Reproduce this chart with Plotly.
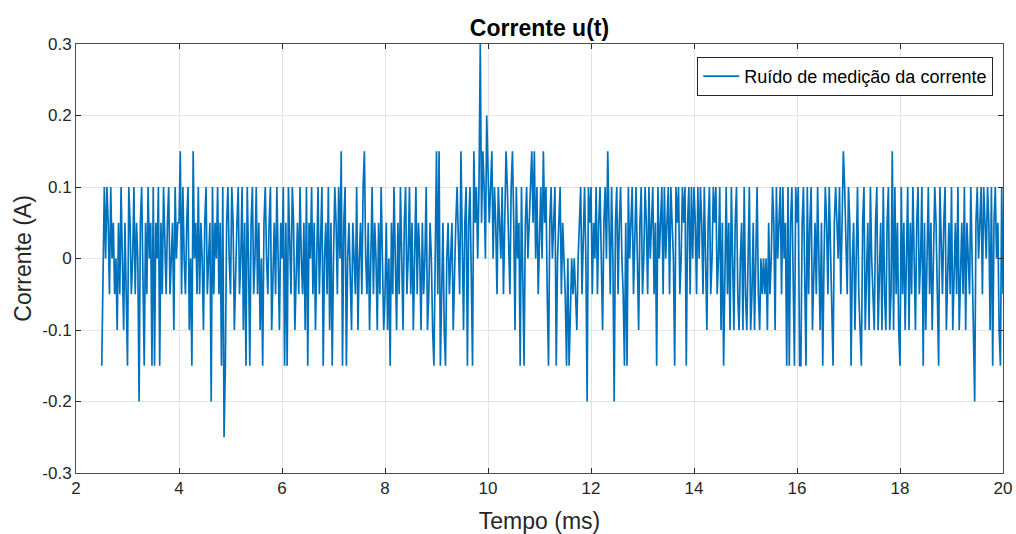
import numpy as np
import plotly.graph_objects as go

# Quantisation step of the current measurement (A per count)
LSB = 0.05
T_START = 2.5      # ms
T_STEP = 0.025     # ms between samples

# Measured noise, in counts of LSB, split into blocks of samples
seg_a = [-3, -1, 2, 0, 2, 1, -1, 2, 0, 1,
         -1, 0, -2, 1, -1, 2, 0, -2, 1, -1,
         -3, 2, 1, -1, 0, 2, -1, 1, 0, -4,
         1, 2, 0, -3, 1, -1, 2, 0, 1, -3,
         2, -3, 1, 0, 2, -3, 1, -1, 2, 0,
         -1, 1, 2, -1, 0, 1, -2, 2, 0, 1]
seg_b = [1, 3, -1, 2, 0, -1, 1, 2, -2, 0,
         -3, 3, 0, 1, -1, 2, -1, 1, 0, -2,
         1, 2, -1, 0, 1, -4, 2, -1, 1, 0,
         2, -1, 1, -3, 2, -5, -3, 1, 2, 0,
         -1, 2, 1, -2, 0, 1, 2, -1, 0, 2,
         -2, 1, -3, 2, 0, -3, 1, 2, -1, 0,
         2, -1, 1, -2, 0, -3, 1, 2, 0, -1,
         1, 2, -2, 0, 1, -1, 2, 0, -2, 1]
seg_c = [0, 2, -3, 1, -3, 2, 0, -1, 2, 1,
         -2, 0, 1, -1, 2, 0, -1, 1, -2, 2,
         -3, 1, 0, 2, -1, 1, -2, 0, 2, -1,
         1, 2, -3, 0, 1, -1, 2, -2, 1, -3,
         0, 2, 1, -1, 2, 0, 3, -3, 1, 2,
         -3, 0, 1, -1, -2, 1, 0, -1, 2, -2,
         0, 1, -1, 2, 3, 0, -1, 1, -2, 0,
         2, -1, 1, 0, -2, 1, -1, 2, 0, -2]
seg_d = [-1, 1, -2, 0, -3, 1, -1, 2, 0, -2,
         1, -1, 2, 0, -2, 1, 2, -1, 0, 2,
         -1, 1, -2, 0, 2, -1, 1, 0, -2, 1,
         -1, 0, 2, -2, -1, 1, 0, -2, -3, 0,
         3, -1, 3, -3, -1, 1, -2, -3, 0, 1,
         -1, 0, 1, -2, 0, 1, 2, 0, -1, 3,
         0, -2, 1, 2, -3, 1, 2, 0, -3, 3,
         1, 2, 0, 2, 6, 1, 3, 2, 0, 4]
seg_e = [2, 1, 2, 3, 0, 2, 1, -1, 2, 1,
         0, 2, -1, 1, 3, 2, 0, -1, 2, 3,
         1, -2, 2, 0, 1, -3, 2, -1, -3, 1,
         2, 0, 1, 2, 3, 1, 3, 0, 2, -1,
         1, 2, 0, 3, 1, 2, -1, -3, 1, 2,
         0, 1, 2, -3, 0, 1, 2, -1, 1, 0,
         -1, -3, 0, -3, -1, 0, -1, 0, -1, -2,
         0, 1, 2, -1, 1, 2, 0, -4, 2, 1]
seg_f = [2, -1, 1, 0, 2, -1, 1, 2, 0, -2,
         1, 2, 0, 3, 1, -1, 2, 0, -4, 1,
         2, -1, 1, 2, 0, -1, -3, 1, -3, 2,
         0, 1, 2, -1, 1, 2, 0, -2, 1, 2,
         -1, 0, 2, 1, -1, 2, 0, 1, 2, -1,
         1, -3, 2, 0, 1, 2, -1, 2, 0, 1,
         2, -1, 2, 1, 0, -3, 2, 1, 2, -1,
         0, 2, 1, 2, -3, 1, 2, -1, 2, 0]
seg_g = [2, 1, -1, 2, 0, 2, 1, -1, 2, 0,
         -2, 1, 2, -1, 0, 2, 1, 2, -1, 0,
         2, -2, 1, -3, 0, 2, -1, 1, -2, 2,
         0, -2, 1, 2, -1, -2, 0, 1, -2, 2,
         -1, -2, 0, 2, -2, -1, 1, -2, 0, 2,
         -1, -2, 0, -1, 0, -1, 0, -2, 1, -1,
         0, 2, 1, -2, 2, 0, 1, 2, -1, 2,
         0, 1, -3, 2, -3, 1, 2, -1, -3, 2]
seg_h = [1, 2, -3, -3, 1, 2, 0, -3, 2, -1,
         1, 2, -2, 0, 1, -1, 2, 0, -2, 1,
         -3, 0, 2, 1, -1, 2, 0, -1, -3, 1,
         2, 1, 0, 2, -1, 1, 3, 2, 0, -1,
         2, 1, -3, 0, 1, -2, 0, 2, -1, -2,
         -3, 1, 2, -2, 0, 1, -2, 2, 0, -1,
         -2, 1, 2, -2, 0, 1, -2, 2, -1, -2,
         1, 2, -2, -1, 3, -2, 2, -1, 1, -2]
seg_i = [-3, 2, -1, 1, -2, 0, 2, -2, 1, -1,
         2, 0, -2, 1, 2, -1, 0, 2, -3, 1,
         -2, 0, 2, -1, 1, -2, 0, 2, 1, -1,
         -3, 2, 0, -1, 1, 2, -2, 0, 1, -1,
         2, -2, 0, 1, -1, 2, -2, 0, 1, -1,
         2, -2, 1, 0, -1, 2, 0, -2, -4, 1,
         2, 0, 1, 2, -1, 2, 1, 0, 2, 1,
         -2, 2, -3, 1, 2, 0, 1, -2, -3, 2,
         -1]

x_ticks = [2, 4, 6, 8, 10, 12, 14, 16, 18, 20]
y_ticks = [-0.3, -0.2, -0.1, 0, 0.1, 0.2, 0.3]
y_tick_text = ["-0.3", "-0.2", "-0.1", "0", "0.1", "0.2", "0.3"]

counts = np.array(seg_a + seg_b + seg_c + seg_d + seg_e + seg_f + seg_g + seg_h + seg_i)
current = counts * LSB
time_ms = T_START + T_STEP * np.arange(len(counts))

FONT = "Liberation Sans, Arial, Helvetica, sans-serif"
AX_COLOR = "#262626"
GRID = "#e3e3e3"

fig = go.Figure()
fig.add_trace(go.Scatter(
    x=time_ms, y=current, mode="lines",
    line=dict(color="#0072BD", width=1.7),
    name="Ruído de medição da corrente",
))

axis_common = dict(
    showline=True, linecolor="#4d4d4d", linewidth=1, mirror="ticks",
    ticks="inside", ticklen=5, tickcolor="#262626", tickwidth=1,
    showgrid=True, gridcolor=GRID, gridwidth=1, zeroline=False,
    automargin=False, ticklabeloverflow="allow",
    tickfont=dict(family=FONT, size=17, color=AX_COLOR),
)

fig.update_layout(
    width=1016, height=534,
    margin=dict(l=76, r=13, t=44, b=61),
    paper_bgcolor="white", plot_bgcolor="white",
    font=dict(family=FONT, color=AX_COLOR),
    title=dict(text="<b>Corrente u(t)</b>", xref="paper", x=0.5, xanchor="center",
               y=0.948, yanchor="middle",
               font=dict(family=FONT, size=23, color="#000000")),
    xaxis=dict(range=[2, 20], tickvals=x_ticks,
               title=dict(text="Tempo (ms)",
                          font=dict(family=FONT, size=23, color=AX_COLOR)),
               **axis_common),
    yaxis=dict(range=[-0.3, 0.3], tickvals=y_ticks, ticktext=y_tick_text,
               **axis_common),
    showlegend=True,
    legend=dict(x=0.9895, y=0.97, xanchor="right", yanchor="top",
                bgcolor="white", bordercolor="#262626", borderwidth=1,
                font=dict(family=FONT, size=18, color="#000000"),
                itemwidth=36),
)

# Vertical axis title placed beside the tick labels
fig.add_annotation(
    text="Corrente (A)", textangle=-90, showarrow=False,
    xref="paper", yref="paper", x=-0.058, y=0.5,
    xanchor="center", yanchor="middle",
    font=dict(family=FONT, size=23, color=AX_COLOR),
)

fig.write_html("out.html")
